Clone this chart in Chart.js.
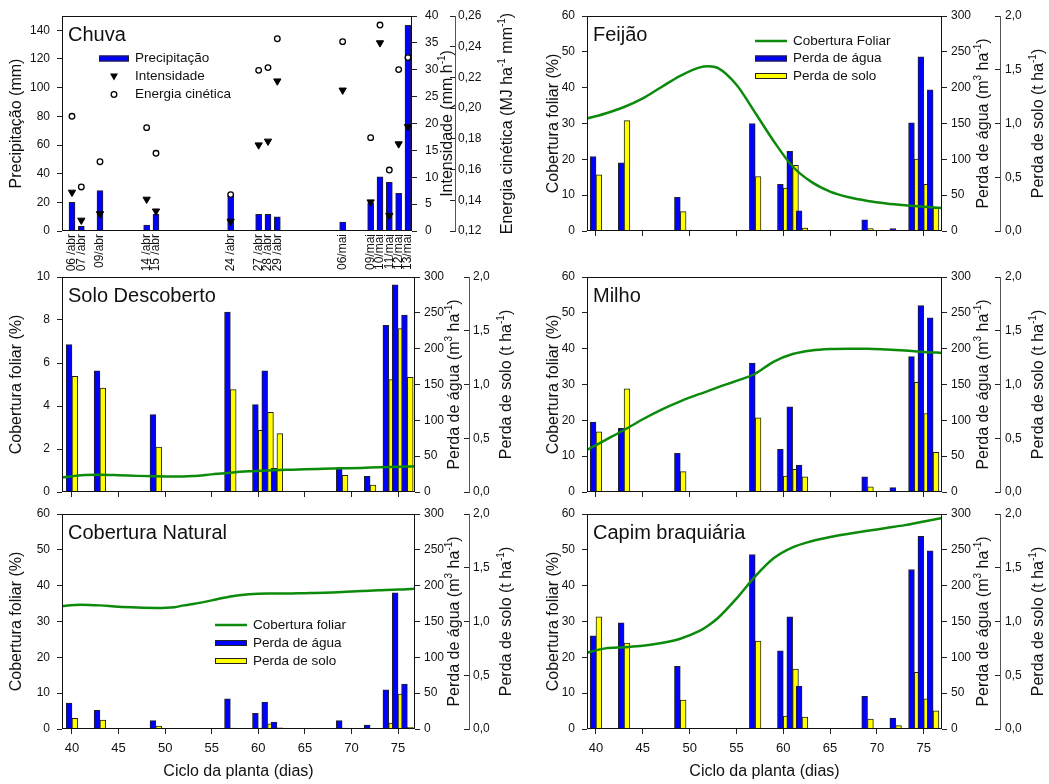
<!DOCTYPE html>
<html>
<head>
<meta charset="utf-8">
<script src="https://cdn.jsdelivr.net/npm/chart.js@4.4.1/dist/chart.umd.min.js"></script>
<style>
  body { margin: 0; background: #fff; width: 1049px; height: 784px; position: relative; overflow: hidden; }
  canvas { position: absolute; }
</style>
</head>
<body>
<canvas id="chuva" width="540" height="285" style="left:0;top:0"></canvas>
<canvas id="feijao" width="509" height="260" style="left:540px;top:0"></canvas>
<canvas id="solo" width="540" height="243" style="left:0;top:262px"></canvas>
<canvas id="milho" width="509" height="243" style="left:540px;top:262px"></canvas>
<canvas id="natural" width="540" height="279" style="left:0;top:505px"></canvas>
<canvas id="capim" width="509" height="279" style="left:540px;top:505px"></canvas>
<script>
Chart.defaults.font.family = '"Liberation Sans", Arial, sans-serif';
Chart.defaults.font.size = 12;
Chart.defaults.color = '#111';
Chart.defaults.animation = false;

const BLUE = '#0000ff';
const YELLOW = '#ffff00';
const GREEN = '#0b8a0b';
const EDGE = '#222';
const FONT = '"Liberation Sans", Arial, sans-serif';

// chuva
const rainDates = ['06 /abr', '07 /abr', '09/abr', '14 /abr', '15 /abr', '24 /abr', '27 /abr', '28 /abr', '29 /abr',
                   '06/mai', '09/mai', '10/mai', '11/mai', '12/mai', '13/mai'];
const rainDays = [40, 41, 43, 48, 49, 57, 60, 61, 62, 69, 72, 73, 74, 75, 76];
const rainMm = [20, 3.3, 28.2, 4.2, 11.7, 24.6, 11.7, 11.7, 9.9, 6.3, 19.7, 37.8, 34, 26.3, 143.5];
const rainIntensity = [7.2, 2.0, 3.2, 5.9, 3.7, 1.8, 16.0, 16.7, 27.9, 26.2, 5.4, 35.0, 2.9, 16.2, 19.4];
const rainEnergy = [0.1947, 0.1487, 0.1651, 0.1873, 0.1706, 0.1437, 0.2246, 0.2264, 0.2452, 0.2433,
                    0.1808, 0.2541, 0.1597, 0.2251, 0.2329];

// perdas (dias com escoamento)
const lossDays = [40, 43, 49, 57, 60, 61, 62, 69, 72, 74, 75, 76];
const dayTicks = [40, 45, 50, 55, 60, 65, 70, 75];

// cobertura foliar
const coverDays = [38.5, 41, 43, 45, 47, 49, 51, 52, 53, 55, 57, 59, 61, 63, 65, 67, 69, 71, 73, 75, 77];
const feijaoCover = [31.0, 32.8, 34.6, 37.0, 40.2, 43.3, 45.6, 46.0, 45.5, 40.8, 33.0, 25.0, 18.0, 13.7, 11.0, 9.4, 8.4, 7.7, 7.2, 6.8, 6.4];
const soloCover = [0.65, 0.78, 0.8, 0.78, 0.75, 0.73, 0.72, 0.72, 0.74, 0.82, 0.9, 0.96, 1.0, 1.03, 1.06, 1.08, 1.1, 1.12, 1.15, 1.17, 1.2];
const milhoCover = [11.0, 14.5, 17.3, 20.3, 23.0, 25.3, 27.3, 28.2, 29.2, 31.0, 33.0, 36.4, 38.5, 39.5, 39.9, 40.0, 40.0, 39.8, 39.5, 39.1, 38.8];
const naturalCover = [34.2, 34.7, 34.5, 34.1, 33.9, 33.8, 34.0, 34.5, 34.9, 35.9, 37.0, 37.6, 37.8, 37.8, 37.9, 38.0, 38.2, 38.5, 38.7, 38.9, 39.2];
const capimCover = [20.9, 22.5, 22.8, 23.2, 24.0, 25.2, 27.3, 28.9, 30.9, 36.4, 42.6, 47.7, 50.7, 52.4, 53.6, 54.5, 55.3, 56.1, 56.9, 57.9, 58.9];

// perda de agua (m3/ha)
const feijaoWater = [104, 95, 47, 150, 65, 111, 28, 15.5, 3.5, 151, 243, 197];
const soloWater = [205.6, 169, 108, 251, 122, 169, 33, 34, 22, 232.6, 289, 247];
const milhoWater = [97.5, 89, 54, 180, 59.5, 119, 37.5, 21, 6, 189, 260, 243];
const naturalWater = [36, 26, 11.6, 42, 22, 37.7, 9.8, 11.6, 5.3, 54.6, 190, 62.8];
const capimWater = [130, 148, 87.5, 243.5, 109, 156.5, 60, 45.5, 15.3, 222.5, 269, 248.5];

// perda de solo (t/ha)
const feijaoSoil = [0.523, 1.027, 0.18, 0.507, 0.40, 0.61, 0.027, 0.023, 0.003, 0.67, 0.433, 0.213];
const soloSoil = [1.076, 0.967, 0.419, 0.952, 0.574, 0.741, 0.543, 0.155, 0.065, 1.045, 1.52, 1.067];
const milhoSoil = [0.56, 0.96, 0.19, 0.69, 0.147, 0.21, 0.14, 0.047, 0.007, 1.02, 0.73, 0.37];
const naturalSoil = [0.10, 0.084, 0.028, 0.009, 0.009, 0.047, 0.012, 0.009, 0, 0.056, 0.326, 0.016];
const capimSoil = [1.043, 0.80, 0.27, 0.817, 0.12, 0.557, 0.11, 0.093, 0.031, 0.527, 0.28, 0.17];

function pts(xs, ys) {
    return xs.map((x, i) => ({ x: x, y: ys[i] }));
}
function comma(d) {
    return v => v.toFixed(d).replace('.', ',');
}
function fixed(size) {
    return s => {
        if (s.isHorizontal()) s.height = size;
        else s.width = size;
        s.paddingTop = 0; s.paddingBottom = 0; s.paddingLeft = 0; s.paddingRight = 0;
    };
}
function setTicks(values) {
    return s => { s.ticks = values.map(v => ({ value: v })); };
}
function range(a, b, step) {
    const out = [];
    for (let i = 0; a + i * step <= b + 1e-9; i++) out.push(+(a + i * step).toFixed(4));
    return out;
}

function drawRich(ctx, parts, cx, cy) {
    ctx.save();
    ctx.translate(cx, cy);
    ctx.rotate(-Math.PI / 2);
    ctx.textBaseline = 'middle';
    ctx.textAlign = 'left';
    let total = 0;
    parts.forEach(p => {
        ctx.font = (p[1] ? '10px ' : '16px ') + FONT;
        total += ctx.measureText(p[0]).width;
    });
    let x = -total / 2;
    parts.forEach(p => {
        ctx.font = (p[1] ? '10px ' : '16px ') + FONT;
        ctx.fillText(p[0], x, p[1] ? -6 : 0);
        x += ctx.measureText(p[0]).width;
    });
    ctx.restore();
}

const panelDecor = {
    id: 'panelDecor',
    afterDraw(chart, args, o) {
        const ctx = chart.ctx;
        const a = chart.chartArea;
        ctx.save();
        ctx.strokeStyle = '#111';
        ctx.lineWidth = 1;
        ctx.strokeRect(Math.round(a.left) + 0.5, Math.round(a.top) + 0.5, Math.round(a.right - a.left) - 1, Math.round(a.bottom - a.top) - 1);
        ctx.fillStyle = '#111';
        ctx.textBaseline = 'middle';
        ctx.font = '20px ' + FONT;
        ctx.fillText(o.title, a.left + 6, a.top + 19);
        (o.sideTitles || []).forEach(t => {
            const sc = chart.scales[t.axis];
            drawRich(ctx, t.parts, sc.left + t.dx, (a.top + a.bottom) / 2);
        });
        if (o.legend) {
            const lg = o.legend;
            ctx.font = '13.5px ' + FONT;
            lg.items.forEach((it, i) => {
                const y = a.top + lg.y + i * lg.dy;
                const x0 = a.left + lg.x;
                const cx = x0 + lg.w / 2;
                ctx.lineWidth = 1;
                ctx.strokeStyle = EDGE;
                if (it.type === 'line') {
                    ctx.strokeStyle = GREEN;
                    ctx.lineWidth = 2.5;
                    ctx.beginPath(); ctx.moveTo(x0, y); ctx.lineTo(x0 + lg.w, y); ctx.stroke();
                } else if (it.type === 'box') {
                    ctx.fillStyle = it.color;
                    ctx.fillRect(x0, y - 3, lg.w, 6);
                    ctx.strokeRect(x0 + 0.5, y - 2.5, lg.w - 1, 5);
                } else if (it.type === 'tri') {
                    ctx.fillStyle = '#000';
                    ctx.beginPath(); ctx.moveTo(cx - 4, y - 3); ctx.lineTo(cx + 4, y - 3); ctx.lineTo(cx, y + 4); ctx.closePath(); ctx.fill();
                } else if (it.type === 'circle') {
                    ctx.strokeStyle = '#000'; ctx.lineWidth = 1.3;
                    ctx.beginPath(); ctx.arc(cx, y, 2.8, 0, Math.PI * 2); ctx.stroke();
                }
                ctx.fillStyle = '#111';
                ctx.fillText(it.label, a.left + lg.tx, y);
            });
        }
        ctx.restore();
    }
};
Chart.register(panelDecor);

const waterTitle = [['Perda de água (m'], ['3', 1], [' ha'], ['-1', 1], [')']];
const soilTitle = [['Perda de solo (t ha'], ['-1', 1], [')']];

function tickGrid(len) {
    return { drawOnChartArea: false, tickLength: len, tickColor: '#222', tickWidth: 1 };
}

new Chart(document.getElementById('chuva'), {
    type: 'bar',
    data: {
        datasets: [
            { type: 'line', showLine: false, data: pts(rainDays, rainIntensity), yAxisID: 'y1',
              pointStyle: 'triangle', pointRotation: 180, pointRadius: 4.2,
              pointBackgroundColor: '#000', pointBorderColor: '#000', pointBorderWidth: 1 },
            { type: 'line', showLine: false, data: pts(rainDays, rainEnergy), yAxisID: 'y2',
              pointStyle: 'circle', pointRadius: 2.8,
              pointBackgroundColor: '#fff', pointBorderColor: '#000', pointBorderWidth: 1.3 },
            { data: pts(rainDays, rainMm), yAxisID: 'y', backgroundColor: BLUE,
              borderColor: EDGE, borderWidth: 1, barThickness: 6 }
        ]
    },
    options: {
        responsive: false,
        layout: { padding: { top: 16 } },
        plugins: {
            legend: { display: false },
            tooltip: { enabled: false },
            panelDecor: {
                title: 'Chuva',
                sideTitles: [
                    { axis: 'y1', dx: 36, parts: [['Intensidade (mm h'], ['-1', 1], [')']] },
                    { axis: 'y2', dx: 53, parts: [['Energia cinética (MJ ha'], ['-1', 1], [' mm'], ['-1', 1], [')']] }
                ],
                legend: {
                    x: 37, w: 30, tx: 73, y: 42.5, dy: 18,
                    items: [
                        { type: 'box', color: BLUE, label: 'Precipitação' },
                        { type: 'tri', label: 'Intensidade' },
                        { type: 'circle', label: 'Energia cinética' }
                    ]
                }
            }
        },
        scales: {
            x: {
                type: 'linear', min: 38.93, max: 76.43, offset: false,
                afterBuildTicks: setTicks(rainDays), afterFit: fixed(54),
                grid: { display: false, drawTicks: false, offset: false },
                border: { display: false },
                ticks: { autoSkip: false, minRotation: 90, maxRotation: 90, padding: 3, font: { size: 12 },
                         callback: v => rainDates[rainDays.indexOf(v)] }
            },
            y: {
                position: 'left', min: 0, max: 150,
                afterBuildTicks: setTicks(range(0, 140, 20)), afterFit: fixed(62),
                grid: tickGrid(5), border: { display: false },
                ticks: { padding: 7 },
                title: { display: true, text: 'Precipitação (mm)', font: { size: 16 }, padding: { top: 7, bottom: 0 } }
            },
            y1: {
                position: 'right', weight: 0, min: 0, max: 40,
                afterBuildTicks: setTicks(range(0, 40, 5)), afterFit: fixed(43),
                grid: tickGrid(5), border: { display: false },
                ticks: { padding: 8 }
            },
            y2: {
                position: 'right', weight: 1, min: 0.12, max: 0.26,
                afterBuildTicks: setTicks(range(0.12, 0.26, 0.02)), afterFit: fixed(85),
                grid: tickGrid(-5), border: { display: true, color: '#555' },
                ticks: { padding: 8, callback: comma(2) }
            }
        }
    }
});

function lossPanel(id, o) {
    const left = o.col === 0;
    const yw = left ? 62 : 47;
    const y1w = left ? 54 : 58;
    const y2w = left ? 71 : 49;
    new Chart(document.getElementById(id), {
        type: 'bar',
        data: {
            datasets: [
                { type: 'line', data: pts(coverDays, o.cover), yAxisID: 'y', borderColor: GREEN,
                  borderWidth: 2.5, pointRadius: 0, cubicInterpolationMode: 'monotone' },
                { data: pts(lossDays, o.water), yAxisID: 'y1', backgroundColor: BLUE,
                  borderColor: EDGE, borderWidth: 1, barThickness: 5.8 },
                { data: pts(lossDays, o.soil), yAxisID: 'y2', backgroundColor: YELLOW,
                  borderColor: EDGE, borderWidth: 1, barThickness: 5.8 }
            ]
        },
        options: {
            responsive: false,
            layout: { padding: { top: o.top } },
            plugins: {
                legend: { display: false },
                tooltip: { enabled: false },
                panelDecor: {
                    title: o.title,
                    legend: o.legend,
                    sideTitles: [
                        { axis: 'y1', dx: left ? 40 : 42, parts: waterTitle },
                        { axis: 'y2', dx: left ? 38 : 39, parts: soilTitle }
                    ]
                }
            },
            scales: {
                x: {
                    type: 'linear', min: left ? 38.93 : 39.04, max: left ? 76.82 : 76.95, offset: false,
                    afterBuildTicks: setTicks(dayTicks), afterFit: fixed(o.xh),
                    grid: { drawOnChartArea: false, tickLength: 5, tickColor: '#222', offset: false },
                    border: { display: false },
                    ticks: { display: o.labels, padding: 7, autoSkip: false, font: { size: 13 } },
                    title: { display: o.labels, text: 'Ciclo da planta (dias)', font: { size: 16 },
                             padding: { top: 0, bottom: 3 } }
                },
                y: {
                    position: 'left', min: 0, max: o.coverMax,
                    afterBuildTicks: setTicks(range(0, o.coverMax, o.coverMax / 5 > 5 ? 10 : 2)), afterFit: fixed(yw),
                    grid: tickGrid(5), border: { display: false },
                    ticks: { padding: 7 },
                    title: { display: true, text: 'Cobertura foliar (%)', font: { size: 16 },
                             padding: { top: left ? 7 : 4, bottom: 0 } }
                },
                y1: {
                    position: 'right', weight: 0, min: 0, max: 300,
                    afterBuildTicks: setTicks(range(0, 300, 50)), afterFit: fixed(y1w),
                    grid: tickGrid(5), border: { display: false },
                    ticks: { padding: 4 }
                },
                y2: {
                    position: 'right', weight: 1, min: 0, max: 2,
                    afterBuildTicks: setTicks(range(0, 2, 0.5)), afterFit: fixed(y2w),
                    grid: tickGrid(-5), border: { display: true, color: '#555' },
                    ticks: { padding: left ? 9 : 10, callback: comma(1) }
                }
            }
        }
    });
}

lossPanel('feijao', {
    col: 1, top: 16, xh: 29, labels: false, title: 'Feijão', coverMax: 60,
    cover: feijaoCover, water: feijaoWater, soil: feijaoSoil,
    legend: {
        x: 168, w: 32, tx: 206, y: 25, dy: 17.5,
        items: [
            { type: 'line', label: 'Cobertura Foliar' },
            { type: 'box', color: BLUE, label: 'Perda de água' },
            { type: 'box', color: YELLOW, label: 'Perda de solo' }
        ]
    }
});
lossPanel('solo', {
    col: 0, top: 15, xh: 13, labels: false, title: 'Solo Descoberto', coverMax: 10,
    cover: soloCover, water: soloWater, soil: soloSoil
});
lossPanel('milho', {
    col: 1, top: 15, xh: 13, labels: false, title: 'Milho', coverMax: 60,
    cover: milhoCover, water: milhoWater, soil: milhoSoil
});
lossPanel('natural', {
    col: 0, top: 9, xh: 55, labels: true, title: 'Cobertura Natural', coverMax: 60,
    cover: naturalCover, water: naturalWater, soil: naturalSoil,
    legend: {
        x: 153, w: 32, tx: 191, y: 111, dy: 18,
        items: [
            { type: 'line', label: 'Cobertura foliar' },
            { type: 'box', color: BLUE, label: 'Perda de água' },
            { type: 'box', color: YELLOW, label: 'Perda de solo' }
        ]
    }
});
lossPanel('capim', {
    col: 1, top: 9, xh: 55, labels: true, title: 'Capim braquiária', coverMax: 60,
    cover: capimCover, water: capimWater, soil: capimSoil
});
</script>
</body>
</html>
